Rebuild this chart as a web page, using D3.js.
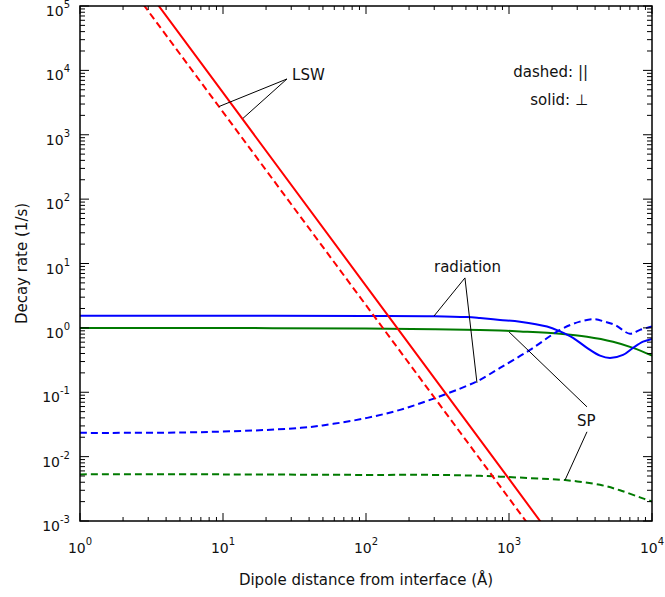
<!DOCTYPE html>
<html>
<head>
<meta charset="utf-8">
<script src="https://cdn.jsdelivr.net/npm/d3@7"></script>
<style>
body { margin: 0; background: #fff; }
text { font-family: "DejaVu Sans", Verdana, sans-serif; fill: #111; }
</style>
</head>
<body>
<svg id="chart"></svg>
<script>
var W = 665, H = 597;
var margin = {left: 80, top: 6, right: 13, bottom: 76};

// LSW (lossy surface waves), straight d^-3 lines
var lswPerpD = [3, 10, 100, 1000, 2000];
var lswPerpR = [1.67e5, 4500, 4.5, 0.0045, 0.00056];
var lswParD = [2.5, 10, 100, 1000, 2000];
var lswParR = [1.44e5, 2250, 2.25, 0.00225, 0.00028];

// radiation
var radPerpD = [1, 10, 100, 300, 508, 627, 865, 1194, 1844, 2274, 2803, 3511, 4328, 5084, 6270, 7368, 8656, 10000];
var radPerpR = [1.54, 1.54, 1.535, 1.52, 1.47, 1.42, 1.33, 1.25, 1.05, 0.88, 0.70, 0.49, 0.37, 0.34, 0.38, 0.49, 0.61, 0.675];
var radParD = [1, 7, 35, 59, 102, 173, 294, 508, 627, 865, 1403, 2274, 3130, 3990, 4660, 5510, 7020, 8240, 10000];
var radParR = [0.0234, 0.024, 0.028, 0.0323, 0.040, 0.0533, 0.079, 0.126, 0.156, 0.239, 0.455, 0.93, 1.25, 1.36, 1.25, 1.11, 0.81, 0.93, 1.05];

// surface plasmon
var spPerpD = [1, 10, 100, 300, 627, 865, 1194, 2274, 3511, 5340, 7368, 10000];
var spPerpR = [1.0, 0.995, 0.975, 0.95, 0.93, 0.91, 0.88, 0.81, 0.73, 0.61, 0.49, 0.37];
var spParD = [1, 10, 100, 300, 627, 1403, 2465, 4330, 5970, 8240, 10000];
var spParR = [0.0053, 0.0053, 0.0052, 0.0052, 0.00503, 0.00464, 0.00432, 0.00365, 0.00300, 0.00233, 0.00201];

var xDecades = [0, 1, 2, 3, 4];
var yDecades = [-3, -2, -1, 0, 1, 2, 3, 4, 5];

var svg = d3.select("#chart").attr("width", W).attr("height", H);

var x = d3.scaleLog().domain([1, 1e4]).range([margin.left, W - margin.right]);
var y = d3.scaleLog().domain([1e-3, 1e5]).range([H - margin.bottom, margin.top]);
var x0 = x.range()[0], x1 = x.range()[1], y0 = y.range()[1], y1 = y.range()[0];

svg.append("clipPath").attr("id", "plotclip").append("rect")
	.attr("x", x0).attr("y", y0).attr("width", x1 - x0).attr("height", y1 - y0);

function zip(ds, rs) {
	return ds.map(function(d, i) { return [d, rs[i]]; });
}

var lineSmooth = d3.line().x(function(p) { return x(p[0]); }).y(function(p) { return y(p[1]); }).curve(d3.curveCatmullRom.alpha(0.5));
var lineStraight = d3.line().x(function(p) { return x(p[0]); }).y(function(p) { return y(p[1]); });

var series = [
	{pts: zip(spParD, spParR), color: "#007a00", dash: "7,4", gen: lineSmooth},
	{pts: zip(spPerpD, spPerpR), color: "#007a00", dash: null, gen: lineSmooth},
	{pts: zip(radParD, radParR), color: "#0000ff", dash: "7,4", gen: lineSmooth},
	{pts: zip(radPerpD, radPerpR), color: "#0000ff", dash: null, gen: lineSmooth},
	{pts: zip(lswParD, lswParR), color: "#ff0000", dash: "7,4", gen: lineStraight},
	{pts: zip(lswPerpD, lswPerpR), color: "#ff0000", dash: null, gen: lineStraight}
];

var plot = svg.append("g").attr("clip-path", "url(#plotclip)");
plot.selectAll("path").data(series).enter().append("path")
	.attr("d", function(s) { return s.gen(s.pts); })
	.attr("fill", "none")
	.attr("stroke", function(s) { return s.color; })
	.attr("stroke-width", 2)
	.attr("stroke-dasharray", function(s) { return s.dash; });

// annotations (data coordinates)
var annotations = [
	{text: "LSW", at: [30.4, 7100], hub: [28, 7350], ends: [[9.4, 2750], [13.8, 1800]]},
	{text: "radiation", at: [299, 7.41], hub: [492, 5.97], ends: [[299, 1.53], [597, 0.14]]},
	{text: "SP", at: [2990, 0.030], hub: [3510, 0.0593], ends: [[1000, 0.867]]},
	{text: "", at: null, hub: [3510, 0.0243], ends: [[2465, 0.00432]]}
];
var ann = svg.append("g");
annotations.forEach(function(a) {
	a.ends.forEach(function(e) {
		ann.append("line")
			.attr("x1", x(a.hub[0])).attr("y1", y(a.hub[1]))
			.attr("x2", x(e[0])).attr("y2", y(e[1]))
			.attr("stroke", "#000").attr("stroke-width", 1);
	});
	if (a.at) {
		ann.append("text").attr("x", x(a.at[0])).attr("y", y(a.at[1]))
			.attr("font-size", 15).text(a.text);
	}
});

// legend text
var legend = svg.append("g").attr("font-size", 15).attr("text-anchor", "end");
legend.append("text").attr("x", x1 - 64).attr("y", y0 + 71).text("dashed: ||");
legend.append("text").attr("x", x1 - 64).attr("y", y0 + 99).text("solid: \u22A5");

// ticks on all four sides, pointing inward
var ax = svg.append("g").attr("stroke", "#000").attr("stroke-width", 1);
var xTicks = [], yTicks = [];
xDecades.forEach(function(e) {
	xTicks.push({v: Math.pow(10, e), major: true});
	if (e < 4) for (var k = 2; k < 10; k++) xTicks.push({v: k * Math.pow(10, e), major: false});
});
yDecades.forEach(function(e) {
	yTicks.push({v: Math.pow(10, e), major: true});
	if (e < 5) for (var k = 2; k < 10; k++) yTicks.push({v: k * Math.pow(10, e), major: false});
});
xTicks.forEach(function(t) {
	var len = t.major ? 8 : 4, px = x(t.v);
	ax.append("line").attr("x1", px).attr("x2", px).attr("y1", y1).attr("y2", y1 - len);
	ax.append("line").attr("x1", px).attr("x2", px).attr("y1", y0).attr("y2", y0 + len);
});
yTicks.forEach(function(t) {
	var len = t.major ? 9 : 5, py = y(t.v);
	ax.append("line").attr("x1", x0).attr("x2", x0 + len).attr("y1", py).attr("y2", py);
	ax.append("line").attr("x1", x1).attr("x2", x1 - len).attr("y1", py).attr("y2", py);
});

svg.append("rect").attr("x", x0).attr("y", y0).attr("width", x1 - x0).attr("height", y1 - y0)
	.attr("fill", "none").attr("stroke", "#000").attr("stroke-width", 1.5);

// tick labels
var xl = svg.append("g").attr("font-size", 14).attr("text-anchor", "middle");
xDecades.forEach(function(e) {
	var t = xl.append("text").attr("x", x(Math.pow(10, e))).attr("y", y1 + 32);
	t.append("tspan").text("10");
	t.append("tspan").attr("dy", -8).attr("font-size", 10).text(e);
});
var yl = svg.append("g").attr("font-size", 14).attr("text-anchor", "end");
yDecades.forEach(function(e) {
	var t = yl.append("text").attr("x", x0 - 10).attr("y", y(Math.pow(10, e)) + 10);
	t.append("tspan").text("10");
	t.append("tspan").attr("dy", -8).attr("font-size", 10).text(e);
});

// axis titles
svg.append("text").attr("x", (x0 + x1) / 2).attr("y", y1 + 64).attr("text-anchor", "middle")
	.attr("font-size", 15).text("Dipole distance from interface (\u00C5)");
svg.append("text").attr("transform", "translate(27," + ((y0 + y1) / 2) + ") rotate(-90)")
	.attr("text-anchor", "middle").attr("font-size", 15).text("Decay rate (1/s)");
</script>
</body>
</html>
